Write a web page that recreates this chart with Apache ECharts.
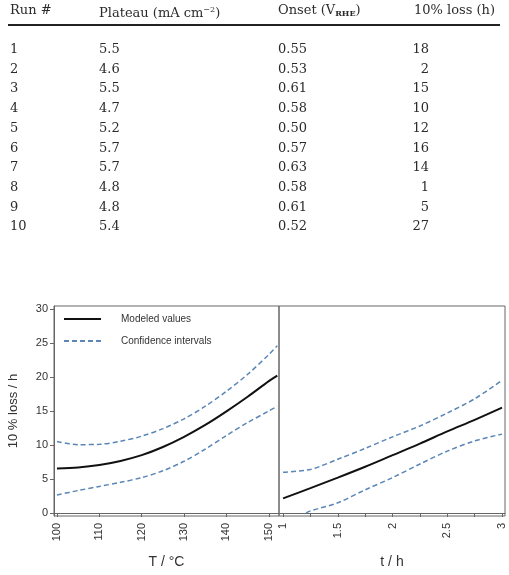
<!DOCTYPE html>
<html>
<head>
<meta charset="utf-8">
<script src="https://cdn.jsdelivr.net/npm/echarts@6/dist/echarts.min.js"></script>
<style>
  body { margin: 0; background: #fff; }
  #chart { position: absolute; left: 0; top: 0; width: 509px; height: 575px; }
  #tbl { position: absolute; left: 0; top: 0; width: 509px; height: 260px;
         font-family: "DejaVu Serif", serif; font-size: 13px; color: #2b2b2b; z-index: 2; }
  #tbl span { position: absolute; line-height: 20px; white-space: nowrap; }
  #tbl sup { font-size: 8px; vertical-align: 5px; }
  #tbl sub { font-size: 8px; font-weight: bold; vertical-align: -2px; }
  #rule { position: absolute; left: 8px; top: 24px; width: 492px; height: 2px; background: #222; }
</style>
</head>
<body>
<div id="tbl"><div id="rule"></div></div>
<div id="chart"></div>
<script>
  // table values
  var runs = [1, 2, 3, 4, 5, 6, 7, 8, 9, 10];
  var plateau = ['5.5', '4.6', '5.5', '4.7', '5.2', '5.7', '5.7', '4.8', '4.8', '5.4'];
  var onset = ['0.55', '0.53', '0.61', '0.58', '0.50', '0.57', '0.63', '0.58', '0.61', '0.52'];
  var loss = [18, 2, 15, 10, 12, 16, 14, 1, 5, 27];

  // left panel: loss vs temperature
  var temp = [100, 105, 110, 115, 120, 125, 130, 135, 140, 145, 150, 152];
  var modelT = [6.55, 6.7, 7.05, 7.65, 8.5, 9.7, 11.2, 12.95, 14.95, 17.1, 19.4, 20.2];
  var upperT = [10.5, 10.05, 10.1, 10.55, 11.3, 12.4, 13.85, 15.7, 17.9, 20.4, 23.3, 24.6];
  var lowerT = [2.65, 3.3, 3.9, 4.5, 5.2, 6.2, 7.6, 9.4, 11.4, 13.3, 15.0, 15.7];

  // right panel: loss vs time
  var time = [1, 1.25, 1.5, 1.75, 2, 2.25, 2.5, 2.75, 3];
  var modelt = [2.15, 3.65, 5.2, 6.8, 8.5, 10.2, 12.0, 13.7, 15.5];
  var uppert = [6.0, 6.4, 7.9, 9.5, 11.2, 12.8, 14.7, 16.8, 19.5];
  var timeLow = [1.21, 1.25, 1.5, 1.75, 2, 2.25, 2.5, 2.75, 3];
  var lowert = [0, 0.3, 1.5, 3.4, 5.2, 7.2, 9.1, 10.6, 11.6];

  var yTicks = [0, 5, 10, 15, 20, 25, 30];
  var tTicks = [100, 110, 120, 130, 140, 150];
  var hTicks = [1, 1.25, 1.5, 1.75, 2, 2.25, 2.5, 2.75, 3];
  var hLabels = [1, 1.5, 2, 2.5, 3];

  // build the table
  var tbl = document.getElementById('tbl');
  function cell(html, left, top, right) {
    var s = document.createElement('span');
    s.innerHTML = html;
    s.style.top = top + 'px';
    if (right) { s.style.left = (left - 60) + 'px'; s.style.width = '60px'; s.style.textAlign = 'right'; }
    else s.style.left = left + 'px';
    tbl.appendChild(s);
  }
  cell('Run #', 10, 0);
  cell('Plateau (mA cm<sup>\u22122</sup>)', 99, 0);
  cell('Onset (V<sub>RHE</sub>)', 278, 0);
  cell('10% loss (h)', 414, 0);
  runs.forEach(function (r, i) {
    var top = 39 + i * 19.7;
    cell(String(r), 10, top);
    cell(plateau[i], 99, top);
    cell(onset[i], 278, top);
    cell(String(loss[i]), 429, top, true);
  });

  function pairs(xs, ys) { return xs.map(function (x, i) { return [x, ys[i]]; }); }

  var solid = { color: '#111', width: 2 };
  var dashed = { color: '#5b86b5', width: 1.5, type: [5, 3] };
  var axisCol = '#666';

  var myChart = echarts.init(document.getElementById('chart'));
  var option = {
    animation: false,
    textStyle: { fontFamily: 'Liberation Sans, Arial, sans-serif' },
    legend: {
      orient: 'vertical',
      left: 58,
      top: 309,
      itemWidth: 37,
      itemHeight: 12,
      itemGap: 12,
      itemStyle: { opacity: 0 },
      data: ['Modeled values', 'Confidence intervals'],
      textStyle: { fontSize: 10, color: '#333', padding: [0, 0, 0, 15] }
    },
    grid: [
      { left: 54, top: 306, width: 225, height: 210, show: true, borderColor: axisCol, borderWidth: 1 },
      { left: 279, top: 306, width: 226, height: 210, show: true, borderColor: axisCol, borderWidth: 1 }
    ],
    xAxis: [
      {
        type: 'value', gridIndex: 0, min: 99.3, max: 152.4,
        name: 'T / \u00B0C', nameLocation: 'middle', nameGap: 39,
        nameTextStyle: { fontSize: 14, color: '#333' },
        axisLine: { show: true, lineStyle: { color: axisCol } },
        axisTick: { show: true, length: 4, lineStyle: { color: axisCol }, customValues: tTicks },
        axisLabel: { rotate: 90, fontSize: 11, color: '#333', margin: 7, customValues: tTicks },
        splitLine: { show: false }
      },
      {
        type: 'value', gridIndex: 1, min: 0.963, max: 3.027,
        name: 't / h', nameLocation: 'middle', nameGap: 39,
        nameTextStyle: { fontSize: 14, color: '#333' },
        axisLine: { show: true, lineStyle: { color: axisCol } },
        axisTick: { show: true, length: 4, lineStyle: { color: axisCol }, customValues: hTicks },
        axisLabel: { rotate: 90, fontSize: 11, color: '#333', margin: 7, customValues: hLabels },
        splitLine: { show: false }
      }
    ],
    yAxis: [
      {
        type: 'value', gridIndex: 0, min: -0.45, max: 30.45,
        name: '10 % loss / h', nameLocation: 'middle', nameGap: 34,
        nameTextStyle: { fontSize: 13, color: '#333' },
        axisLine: { show: true, lineStyle: { color: axisCol } },
        axisTick: { show: true, length: 4, lineStyle: { color: axisCol }, customValues: yTicks },
        axisLabel: { fontSize: 11, color: '#333', margin: 6, customValues: yTicks },
        splitLine: { show: false }
      },
      { type: 'value', gridIndex: 1, min: -0.45, max: 30.45, show: false, splitLine: { show: false } }
    ],
    series: [
      { name: 'Modeled values', type: 'line', xAxisIndex: 0, yAxisIndex: 0, symbol: 'none', smooth: 0.3,
        lineStyle: solid, itemStyle: { color: solid.color }, data: pairs(temp, modelT) },
      { name: 'Confidence intervals', type: 'line', xAxisIndex: 0, yAxisIndex: 0, symbol: 'none', smooth: 0.3,
        lineStyle: dashed, itemStyle: { color: dashed.color }, data: pairs(temp, upperT) },
      { name: 'Confidence intervals', type: 'line', xAxisIndex: 0, yAxisIndex: 0, symbol: 'none', smooth: 0.3,
        lineStyle: dashed, itemStyle: { color: dashed.color }, data: pairs(temp, lowerT) },
      { name: 'Modeled values', type: 'line', xAxisIndex: 1, yAxisIndex: 1, symbol: 'none', smooth: 0.3,
        lineStyle: solid, itemStyle: { color: solid.color }, data: pairs(time, modelt) },
      { name: 'Confidence intervals', type: 'line', xAxisIndex: 1, yAxisIndex: 1, symbol: 'none', smooth: 0.3,
        lineStyle: dashed, itemStyle: { color: dashed.color }, data: pairs(time, uppert) },
      { name: 'Confidence intervals', type: 'line', xAxisIndex: 1, yAxisIndex: 1, symbol: 'none', smooth: 0.3,
        lineStyle: dashed, itemStyle: { color: dashed.color }, data: pairs(timeLow, lowert) }
    ]
  };
  myChart.setOption(option);
</script>
</body>
</html>
